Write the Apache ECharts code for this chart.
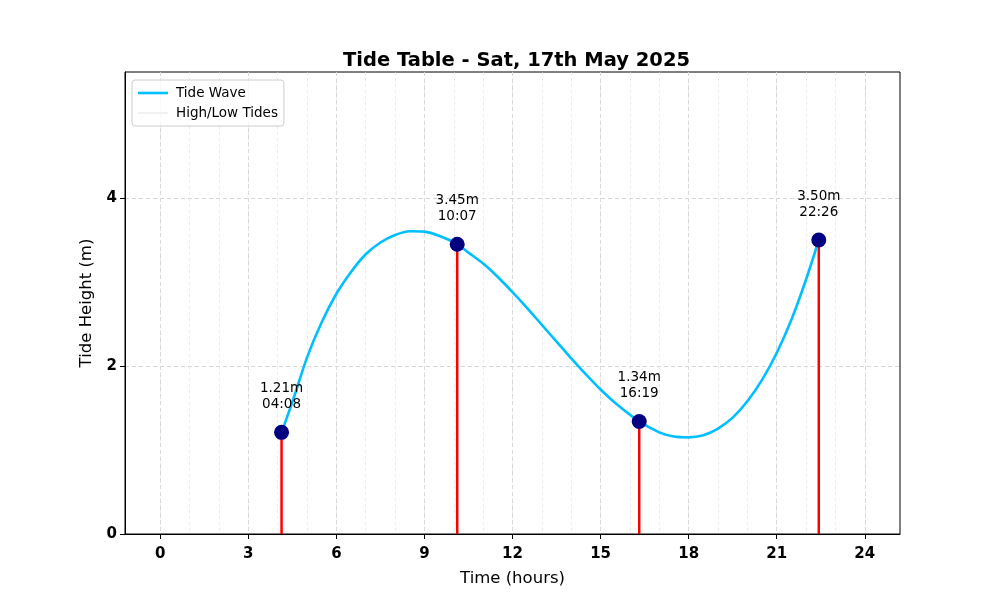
<!DOCTYPE html>
<html>
<head>
<meta charset="utf-8">
<script src="https://cdn.jsdelivr.net/npm/echarts@6/dist/echarts.min.js"></script>
<style>
	html, body { margin: 0; padding: 0; background: #fff; }
	#chart { width: 1000px; height: 600px; }
</style>
</head>
<body>
<div id="chart"></div>
<script>
	// 潮汐曲线 (读自图中)
	var waveHours = [4.133, 4.5, 5, 5.5, 6, 6.5, 7, 7.5, 8, 8.5, 9, 9.5, 10.117, 10.5, 11, 11.5, 12, 12.5, 13, 13.5, 14, 14.5, 15, 15.5, 16.317, 17, 17.5, 18, 18.5, 19, 19.5, 20, 20.5, 21, 21.5, 22, 22.433];
	var waveHeights = [1.21, 1.57, 2.10, 2.52, 2.86, 3.12, 3.33, 3.47, 3.56, 3.605, 3.60, 3.55, 3.45, 3.35, 3.22, 3.06, 2.88, 2.69, 2.49, 2.29, 2.09, 1.90, 1.72, 1.56, 1.34, 1.21, 1.16, 1.15, 1.175, 1.255, 1.385, 1.58, 1.835, 2.155, 2.55, 3.03, 3.50];

	// 高/低潮
	var tideTimes = ['04:08', '10:07', '16:19', '22:26'];
	var tideHeights = [1.21, 3.45, 1.34, 3.50];

	// 刻度
	var xTicks = [0, 3, 6, 9, 12, 15, 18, 21, 24];
	var xMinorTicks = [0, 1, 2, 3, 4, 5, 6, 7, 8, 9, 10, 11, 12, 13, 14, 15, 16, 17, 18, 19, 20, 21, 22, 23, 24];
	var yTicks = [0, 2, 4];

	var font = 'DejaVu Sans';

	function each(arr, fn) { for (var i = 0; i < arr.length; i++) fn(i, arr[i]); }

	function toHours(t) {
		var p = t.split(':');
		return Number(p[0]) + Number(p[1]) / 60;
	}

	var waveData = [];
	each(waveHours, function (i, h) { waveData.push([h, waveHeights[i]]); });
	var tideData = [];
	each(tideTimes, function (i, t) { tideData.push([toHours(t), tideHeights[i], t]); });

	var chart = echarts.init(document.getElementById('chart'));

	var option = {
		animation: false,
		textStyle: { fontFamily: font },
		title: {
			text: 'Tide Table - Sat, 17th May 2025',
			left: 338,
			top: 46,
			textStyle: { fontSize: 19.5, fontWeight: 'bold', color: '#000', fontFamily: font }
		},
		legend: {
			orient: 'vertical',
			left: 132,
			top: 80,
			padding: [6, 6, 6, 6],
			itemGap: 6,
			itemWidth: 30,
			itemHeight: 14,
			borderColor: '#ccc',
			borderWidth: 1,
			borderRadius: 3,
			backgroundColor: 'rgba(255,255,255,0.8)',
			textStyle: { fontSize: 13.5, color: '#000', fontFamily: font, padding: [0, 0, 0, 3] },
			data: [
				{ name: 'Tide Wave', icon: 'path://M0,0L30,0L30,2.6L0,2.6Z', itemStyle: { color: '#00BFFF' } },
				{ name: 'High/Low Tides', icon: 'path://M0,0L30,0L30,0.8L0,0.8Z', itemStyle: { color: '#ddd' } }
			]
		},
		grid: {
			left: 125,
			right: 100,
			top: 72,
			bottom: 66,
			show: true,
			borderColor: '#000',
			borderWidth: 1,
			backgroundColor: 'transparent'
		},
		xAxis: [{
			type: 'value',
			min: -1.2,
			max: 25.2,
			name: 'Time (hours)',
			nameLocation: 'middle',
			nameGap: 36,
			nameTextStyle: { fontSize: 16.5, color: '#000', fontFamily: font },
			axisLine: { onZero: false, lineStyle: { color: '#000', width: 1 } },
			axisTick: { show: true, length: 5, customValues: xTicks, lineStyle: { color: '#000' } },
			axisLabel: { customValues: xTicks, fontSize: 15, fontWeight: 'bold', color: '#000', margin: 13, fontFamily: font },
			splitLine: { show: true, lineStyle: { color: '#ccc', type: [4, 3], width: 0.8 } }
		}, {
			type: 'value',
			min: -1.2,
			max: 25.2,
			position: 'bottom',
			axisLine: { show: false, onZero: false },
			axisTick: { show: false, customValues: xMinorTicks },
			axisLabel: { show: false, customValues: xMinorTicks },
			splitLine: { show: true, lineStyle: { color: '#dedede', type: [3, 3], width: 0.6 } }
		}],
		yAxis: {
			type: 'value',
			min: 0,
			max: 5.5,
			name: 'Tide Height (m)',
			nameLocation: 'middle',
			nameGap: 30,
			nameTextStyle: { fontSize: 16.5, color: '#000', fontFamily: font },
			axisLine: { show: true, onZero: false, lineStyle: { color: '#000', width: 1 } },
			axisTick: { show: true, length: 5, customValues: yTicks, lineStyle: { color: '#000' } },
			axisLabel: { customValues: yTicks, fontSize: 15, fontWeight: 'bold', color: '#000', margin: 8, fontFamily: font },
			splitLine: { show: true, lineStyle: { color: '#ccc', type: [4, 3], width: 0.8 } }
		},
		series: [{
			name: 'High/Low Tides',
			type: 'bar',
			barWidth: 2.5,
			itemStyle: { color: '#ff0000' },
			data: tideData,
			z: 2
		}, {
			name: 'Tide Wave',
			type: 'line',
			smooth: 0.33,
			symbol: 'none',
			lineStyle: { color: '#00BFFF', width: 2.6 },
			itemStyle: { color: '#00BFFF' },
			data: waveData,
			z: 3
		}, {
			name: 'tides',
			type: 'scatter',
			symbolSize: 15,
			itemStyle: { color: '#000080', opacity: 1 },
			label: {
				show: true,
				position: 'top',
				distance: 12,
				fontSize: 13.5,
				lineHeight: 16,
				color: '#000',
				fontFamily: font,
				formatter: function (p) {
					return p.data[1].toFixed(2) + 'm\n' + p.data[2];
				}
			},
			data: tideData,
			z: 4
		}]
	};
	chart.setOption(option);
</script>
</body>
</html>
